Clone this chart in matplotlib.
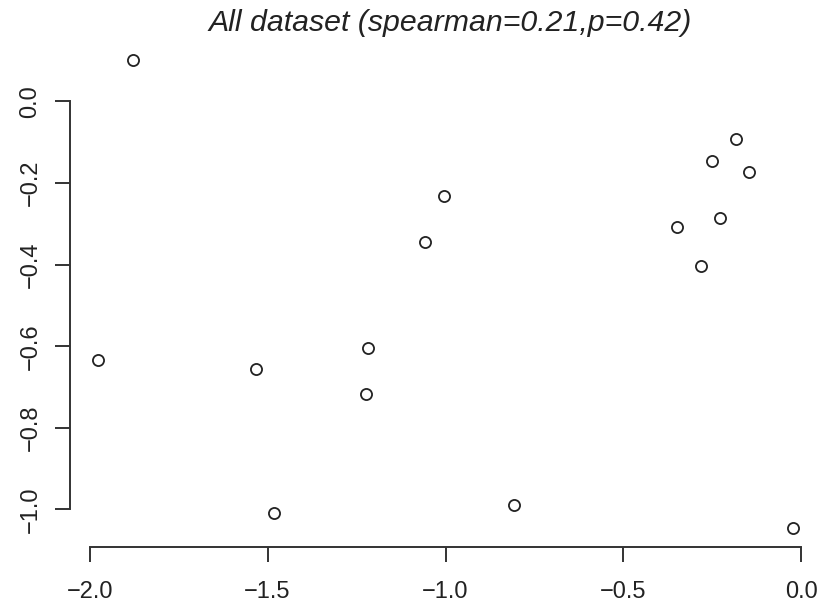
import matplotlib
matplotlib.use("Agg")
import matplotlib.pyplot as plt

plt.rcParams['font.family'] = ['Liberation Sans', 'DejaVu Sans']

# values
x_vals = [-1.878, -1.977, -1.533, -1.218, -1.222, -1.482, -1.058, -1.005,
          -0.808, -0.023, -0.183, -0.250, -0.146, -0.229, -0.349, -0.281]
y_vals = [0.102, -0.633, -0.655, -0.604, -0.717, -1.008, -0.344, -0.233,
          -0.989, -1.046, -0.092, -0.147, -0.174, -0.286, -0.309, -0.404]
x_ticks = [-2.0, -1.5, -1.0, -0.5, 0.0]
y_ticks = [0.0, -0.2, -0.4, -0.6, -0.8, -1.0]
title = "All dataset (spearman=0.21,p=0.42)"

fig = plt.figure(figsize=(8.23, 6.04), dpi=100)
ax = fig.add_axes([70 / 823, 57 / 604, 751 / 823, 506 / 604])

ax.plot(x_vals, y_vals, linestyle='none', marker='o', markersize=8,
        markerfacecolor='none', markeredgecolor='#222222', markeredgewidth=1.3)

# R-style 4% padding around data range
xr = max(x_vals) - min(x_vals)
yr = max(y_vals) - min(y_vals)
ax.set_xlim(min(x_vals) - 0.04 * xr, max(x_vals) + 0.04 * xr)
ax.set_ylim(min(y_vals) - 0.04 * yr, max(y_vals) + 0.04 * yr)

ax.set_xticks(x_ticks)
ax.set_xticklabels(['\u2212%.1f' % abs(t) if t < 0 else '%.1f' % t for t in x_ticks])
ax.set_yticks(y_ticks)
ax.set_yticklabels(['\u2212%.1f' % abs(t) if t < 0 else '%.1f' % t for t in y_ticks],
                   rotation=90, va='center')

for side in ('top', 'right'):
    ax.spines[side].set_visible(False)
ax.spines['left'].set_bounds(min(y_ticks), max(y_ticks))
ax.spines['bottom'].set_bounds(min(x_ticks), max(x_ticks))
for side in ('left', 'bottom'):
    ax.spines[side].set_color('#333333')
    ax.spines[side].set_linewidth(1.4)

ax.tick_params(axis='both', direction='out', length=10.5, width=1.4,
               color='#333333', labelsize=17, labelcolor='#222222')
ax.tick_params(axis='x', pad=14)
ax.tick_params(axis='y', pad=10)

fig.text(0.547, 0.962, title, ha='center', va='center', fontsize=21.8,
         style='italic', color='#222222')

fig.savefig('out.png', dpi=100, facecolor='white')
